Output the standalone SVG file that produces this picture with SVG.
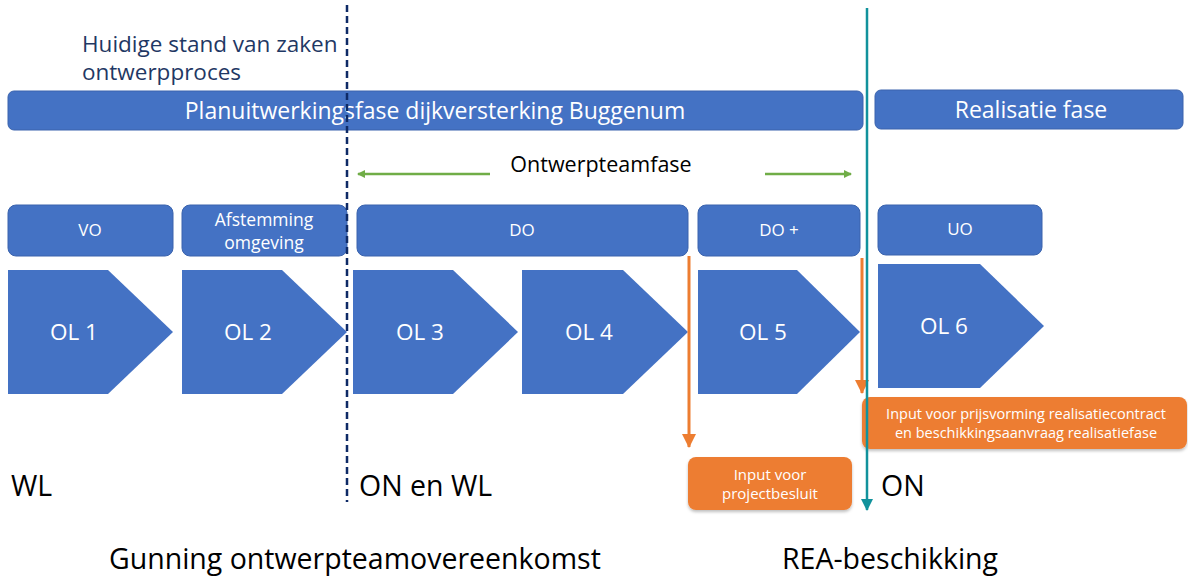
<svg xmlns="http://www.w3.org/2000/svg" width="1188" height="578" viewBox="0 0 1188 578">
<defs>
<style>
.bar{fill:#4472C4;stroke:#3a63ad;stroke-width:1}
.chev{fill:#4472C4}
.org{fill:#ED7D31}
.wt{fill:#fff;font-family:"Open Sans",Lato,sans-serif;text-anchor:middle}
.bt{fill:#000;font-family:"Open Sans",Lato,sans-serif}
.nv{fill:#1f3864;font-family:"Open Sans",Lato,sans-serif}
</style>
<marker id="ga" markerWidth="8" markerHeight="8" refX="7" refY="4" orient="auto" markerUnits="userSpaceOnUse"><path d="M0,0 L8,4 L0,8 Z" fill="#70AD47"/></marker>
<marker id="oa" markerWidth="14" markerHeight="14" refX="13" refY="7" orient="auto" markerUnits="userSpaceOnUse"><path d="M0,0 L14,7 L0,14 Z" fill="#ED7D31"/></marker>
<marker id="ta" markerWidth="12" markerHeight="12" refX="11" refY="6" orient="auto" markerUnits="userSpaceOnUse"><path d="M0,0 L12,6 L0,12 Z" fill="#11929c"/></marker>
<filter id="sh" x="-10%" y="-10%" width="120%" height="130%"><feDropShadow dx="0" dy="2" stdDeviation="1.5" flood-color="#000" flood-opacity="0.25"/></filter>
</defs>
<rect width="1188" height="578" fill="#fff"/>

<g id="title">
<text class="nv" x="82" y="52" font-size="22.5">Huidige stand van zaken</text>
<text class="nv" x="82" y="80" font-size="22.5">ontwerpproces</text>
</g>

<g id="planfase"><rect class="bar" x="8" y="91" width="855" height="39" rx="6"/><text class="wt" x="435" y="119" font-size="23">Planuitwerkingsfase dijkversterking Buggenum</text></g>
<g id="realisatiefase"><rect class="bar" x="875" y="90" width="308" height="39" rx="6"/><text class="wt" x="1031" y="118" font-size="23">Realisatie fase</text></g>

<g id="ontwerpteamfase"><text class="bt" x="601" y="172" font-size="21.5" text-anchor="middle">Ontwerpteamfase</text></g>

<g id="vo"><rect class="bar" x="8" y="205" width="165" height="51" rx="8"/><text class="wt" x="90" y="236" font-size="17">VO</text></g>
<g id="afstemming"><rect class="bar" x="182" y="205" width="165" height="51" rx="8"/><text class="wt" x="264" y="226" font-size="17.5">Afstemming</text><text class="wt" x="264" y="249" font-size="17.5">omgeving</text></g>
<g id="do"><rect class="bar" x="357" y="205" width="331" height="51" rx="8"/><text class="wt" x="522" y="236" font-size="17">DO</text></g>
<g id="doplus"><rect class="bar" x="698" y="205" width="162" height="51" rx="8"/><text class="wt" x="779" y="236" font-size="17">DO +</text></g>
<g id="uo"><rect class="bar" x="878" y="205" width="164" height="50" rx="8"/><text class="wt" x="960" y="235" font-size="17">UO</text></g>

<g id="ol1"><polygon class="chev" points="8,270 108,270 173,332 108,394 8,394"/><text class="wt" x="74" y="340" font-size="22.5">OL 1</text></g>
<g id="ol2"><polygon class="chev" points="182,270 282,270 347,332 282,394 182,394"/><text class="wt" x="248" y="340" font-size="22.5">OL 2</text></g>
<g id="ol3"><polygon class="chev" points="353,270 453,270 518,332 453,394 353,394"/><text class="wt" x="420" y="340" font-size="22.5">OL 3</text></g>
<g id="ol4"><polygon class="chev" points="522,270 623,270 688,332 623,394 522,394"/><text class="wt" x="589" y="340" font-size="22.5">OL 4</text></g>
<g id="ol5"><polygon class="chev" points="698,270 797,270 860,332 797,394 698,394"/><text class="wt" x="763" y="340" font-size="22.5">OL 5</text></g>
<g id="ol6"><polygon class="chev" points="878,264 980,264 1044,326 980,388 878,388"/><text class="wt" x="944" y="334" font-size="22.5">OL 6</text></g>

<g id="input-projectbesluit"><rect class="org" x="688" y="457" width="164" height="53" rx="8" filter="url(#sh)"/><text class="wt" x="770" y="480" font-size="15">Input voor</text><text class="wt" x="770" y="499" font-size="15">projectbesluit</text></g>
<g id="input-prijsvorming"><rect class="org" x="862" y="397" width="325" height="52" rx="8" filter="url(#sh)"/><text class="wt" x="1026" y="419" font-size="14.5">Input voor prijsvorming realisatiecontract</text><text class="wt" x="1026" y="438" font-size="14.5">en beschikkingsaanvraag realisatiefase</text></g>

<g id="labels">
<text class="bt" x="11" y="496" font-size="28.5">WL</text>
<text class="bt" x="359" y="496" font-size="28.5">ON en WL</text>
<text class="bt" x="881" y="496" font-size="28.5">ON</text>
<text class="bt" x="109" y="569" font-size="28.5">Gunning ontwerpteamovereenkomst</text>
<text class="bt" x="782" y="569" font-size="28.5">REA-beschikking</text>
</g>

<g id="connectors" fill="none">
<line x1="347" y1="5" x2="347" y2="502" stroke="#0e2a66" stroke-width="2.5" stroke-dasharray="7,4"/>
<line x1="490" y1="174" x2="358" y2="174" stroke="#70AD47" stroke-width="2.5" marker-end="url(#ga)"/>
<line x1="765" y1="174" x2="851" y2="174" stroke="#70AD47" stroke-width="2.5" marker-end="url(#ga)"/>
<line x1="689" y1="256" x2="689" y2="447" stroke="#ED7D31" stroke-width="3" marker-end="url(#oa)"/>
<line x1="862" y1="258" x2="862" y2="393" stroke="#ED7D31" stroke-width="3" marker-end="url(#oa)"/>
<line x1="867" y1="8" x2="867" y2="510" stroke="#11929c" stroke-width="2.5" marker-end="url(#ta)"/>
</g>
</svg>
